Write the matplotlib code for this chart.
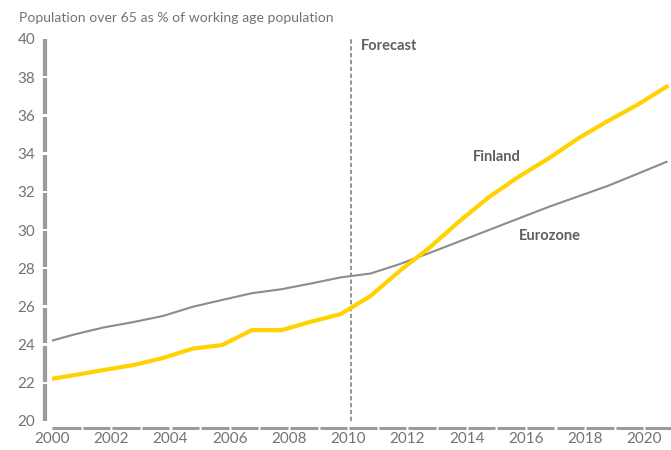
import matplotlib.pyplot as plt
import matplotlib.transforms as mtransforms

# values, one point per year
years = list(range(2000, 2022))
finland = [22.15, 22.4, 22.67, 22.93, 23.3, 23.79, 23.98, 24.76, 24.76, 25.2, 25.6,
           26.54, 27.87, 29.08, 30.45, 31.72, 32.78, 33.73, 34.78, 35.69, 36.54, 37.5]
eurozone = [24.1, 24.53, 24.9, 25.18, 25.5, 25.98, 26.34, 26.69, 26.9, 27.2, 27.52,
            27.72, 28.22, 28.8, 29.4, 30.0, 30.6, 31.2, 31.75, 32.3, 32.93, 33.57]
label_years = list(range(2000, 2021, 2))
y_ticks = list(range(20, 41, 2))
forecast_start = 2010.35

plt.rcParams["font.family"] = ["Lato", "DejaVu Sans"]

YELLOW = "#ffd200"
LINE_GREY = "#8c8c8c"
AXIS_GREY = "#9b9b9b"
TEXT_GREY = "#737373"
LABEL_GREY = "#5f5f5f"

fig = plt.figure(figsize=(6.71, 4.5), dpi=100)
ax = fig.add_axes([52 / 671, 1 - 421 / 450, 619 / 671, 382 / 450])

ax.plot(years, eurozone, color=LINE_GREY, linewidth=1.5, zorder=2)
ax.plot(years, finland, color=YELLOW, linewidth=3, zorder=3)

ax.set_xlim(2000.25, 2021.15)
ax.set_ylim(20, 40)

for side in ["left", "bottom", "right", "top"]:
    ax.spines[side].set_visible(False)

# label positions sit a bit right of the yearly points
ax.set_xticks([y + 0.25 for y in label_years])
ax.set_xticklabels([str(y) for y in label_years])
ax.set_yticks(y_ticks)
ax.set_yticklabels([str(t) for t in y_ticks])
ax.tick_params(axis="x", length=0, pad=8, labelsize=11, labelcolor=TEXT_GREY)
ax.tick_params(axis="y", length=0, pad=12, labelsize=11, labelcolor=TEXT_GREY)

# segmented left axis bar, broken at every tick
ytrans = mtransforms.blended_transform_factory(ax.transAxes, ax.transData)
for lo, hi in zip(y_ticks[:-1], y_ticks[1:]):
    g0 = 0 if lo == y_ticks[0] else 0.06
    g1 = 0 if hi == y_ticks[-1] else 0.06
    ax.plot([-7 / 619, -7 / 619], [lo + g0, hi - g1], color=AXIS_GREY,
            linewidth=3, solid_capstyle="butt", transform=ytrans, clip_on=False)

# dashed bottom axis, one dash per year
xtrans = mtransforms.blended_transform_factory(ax.transData, ax.transAxes)
for y in years[:-1]:
    x0 = y + 0.25
    ax.plot([x0 + (0 if y == years[0] else 0.035), x0 + 1 - 0.035],
            [-6.7 / 382, -6.7 / 382], color=AXIS_GREY, linewidth=2.2,
            solid_capstyle="butt", transform=xtrans, clip_on=False)

# forecast marker
ax.axvline(forecast_start, color=LINE_GREY, linewidth=1.3,
           linestyle=(0, (2.4, 1.4)), zorder=1)
ax.annotate("Forecast", xy=(forecast_start, 1), xycoords=xtrans,
            xytext=(7, -5), textcoords="offset points", ha="left", va="center",
            fontsize=10.5, fontweight="bold", color=LABEL_GREY)

ax.text(2015.28, 33.82, "Finland", ha="center", va="center", fontsize=10.5,
        fontweight="bold", color=LABEL_GREY)
ax.text(2017.06, 29.69, "Eurozone", ha="center", va="center", fontsize=10.5,
        fontweight="bold", color=LABEL_GREY)

fig.text(19 / 671, 1 - 18 / 450, "Population over 65 as % of working age population",
         ha="left", va="center", fontsize=10.1, color=TEXT_GREY)

fig.savefig("out.png", dpi=100)
